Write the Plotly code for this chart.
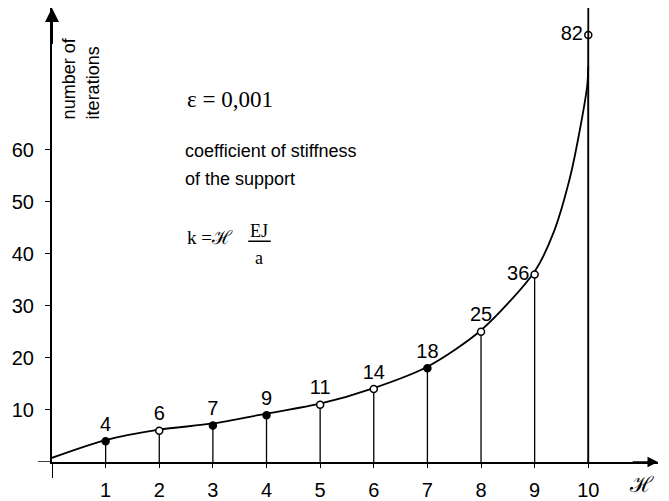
import plotly.graph_objects as go

# stiffness coefficient values and iteration counts
stiffness = [1, 2, 3, 4, 5, 6, 7, 8, 9, 10]
iterations = [4, 6, 7, 9, 11, 14, 18, 25, 36, 82]
filled = [True, False, True, True, False, False, True, False, False, False]

# hand-read points along the smooth curve (it runs up along x = 10)
curve_x = [0, 1, 2, 3, 4, 5, 6, 7, 8, 9, 9.35, 9.66, 9.85, 9.98, 10.0]
curve_y = [0.8, 4.2, 6.2, 7.4, 9.3, 11.2, 14.2, 18.3, 25.3, 36.6, 44, 54.7, 64.2, 72.3, 76]
asymptote_x = 10

x_ticks = [1, 2, 3, 4, 5, 6, 7, 8, 9, 10]
y_ticks = [10, 20, 30, 40, 50, 60]

SANS = "Liberation Sans, Arial, sans-serif"
SERIF = "Liberation Serif, Times New Roman, serif"

fig = go.Figure()

# drop lines from each point to the axis
stem_x, stem_y = [], []
for x, y in zip(stiffness, iterations):
    stem_x += [x, x, None]
    stem_y += [0, y, None]
fig.add_trace(go.Scatter(x=stem_x, y=stem_y, mode='lines',
                         line=dict(color='black', width=1.3),
                         hoverinfo='skip', showlegend=False))
fig.add_vline(x=asymptote_x, line=dict(color='black', width=1.8))

fig.add_trace(go.Scatter(x=curve_x, y=curve_y, mode='lines',
                         line=dict(color='black', width=1.8, shape='spline', smoothing=0.8),
                         showlegend=False))

label_pos = ['top center'] * 8 + ['middle left', 'middle left']
fig.add_trace(go.Scatter(
    x=stiffness, y=iterations, mode='markers+text',
    text=[str(v) for v in iterations], textposition=label_pos,
    textfont=dict(family=SANS, size=20, color='black'),
    marker=dict(size=7, color=['black' if f else 'white' for f in filled],
                line=dict(color='black', width=1.5)),
    cliponaxis=False, showlegend=False))

fig.update_xaxes(range=[0, 11.3], showgrid=False, zeroline=False,
                 showline=True, linecolor='black', linewidth=1.5,
                 tickvals=x_ticks, ticks='outside', ticklen=4, tickcolor='black',
                 ticklabelstandoff=5,
                 tickfont=dict(family=SANS, size=20, color='black'))
fig.update_yaxes(range=[0, 87.2], showgrid=False, zeroline=False,
                 showline=True, linecolor='black', linewidth=2,
                 tickvals=y_ticks, ticks='outside', ticklen=5, tickcolor='black',
                 ticklabelstandoff=7,
                 tickfont=dict(family=SANS, size=20, color='black'))

# axis arrows and short overhangs past the origin
fig.add_annotation(x=0, y=87.2, ax=0, ay=80, axref='x', ayref='y', text='',
                   showarrow=True, arrowhead=2, arrowsize=1.4, arrowwidth=2, arrowcolor='black')
fig.add_annotation(x=11.3, y=0, ax=10.8, ay=0, axref='x', ayref='y', text='',
                   showarrow=True, arrowhead=2, arrowsize=1.4, arrowwidth=1.5, arrowcolor='black')
fig.add_shape(type='line', xref='x', yref='paper', x0=0, x1=0, y0=0, y1=-0.035,
              line=dict(color='black', width=2))
fig.add_shape(type='line', xref='paper', yref='y', x0=0, x1=-0.023, y0=0, y1=0,
              line=dict(color='black', width=1.5))

# texts
fig.add_annotation(x=0.11, y=65.5, text='number of<br>iterations', textangle=-90,
                   xanchor='left', yanchor='bottom', align='left', showarrow=False,
                   font=dict(family=SANS, size=18, color='black'))
fig.add_annotation(x=11.0, y=0, yshift=-8, text='ℋ', yanchor='top', showarrow=False,
                   font=dict(family=SERIF, size=22, color='black'))
fig.add_annotation(x=3.32, y=69.6, text='ε = 0,001', showarrow=False,
                   font=dict(family=SERIF, size=23, color='black'))
fig.add_annotation(x=2.44, y=59.8, text='coefficient of stiffness', xanchor='left',
                   showarrow=False, font=dict(family=SANS, size=18, color='black'))
fig.add_annotation(x=2.44, y=54.3, text='of the support', xanchor='left',
                   showarrow=False, font=dict(family=SANS, size=18, color='black'))
fig.add_annotation(x=2.48, y=43.2, text='k =ℋ', xanchor='left',
                   showarrow=False, font=dict(family=SERIF, size=19, color='black'))
fig.add_annotation(x=3.86, y=44.4, text='EJ', showarrow=False,
                   font=dict(family=SERIF, size=18, color='black'))
fig.add_shape(type='line', xref='x', yref='y', x0=3.66, x1=4.08, y0=42.4, y1=42.4,
              line=dict(color='black', width=1.5))
fig.add_annotation(x=3.86, y=39.2, text='a', showarrow=False,
                   font=dict(family=SERIF, size=18, color='black'))

# the page body adds an 8px offset, so the figure is 8px smaller on each side
fig.update_layout(width=661, height=493, margin=dict(l=44, r=11, t=0, b=31),
                  plot_bgcolor='white', paper_bgcolor='white')

fig.write_html("out.html")
